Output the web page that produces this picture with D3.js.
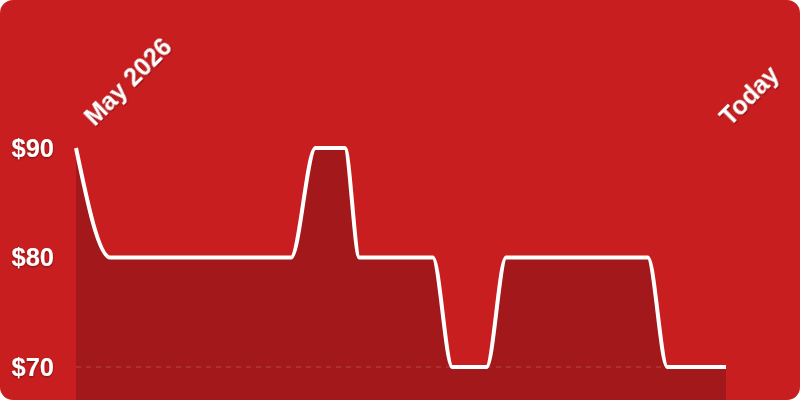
<!DOCTYPE html>
<html>
<head>
<meta charset="utf-8">
<script src="https://cdn.jsdelivr.net/npm/d3@7"></script>
<style>
  html, body { margin: 0; padding: 0; background: #ffffff; }
  svg { display: block; }
  text { font-family: "Liberation Sans", Arial, sans-serif; font-weight: bold; fill: #ffffff; }
</style>
</head>
<body>
<div id="container"></div>
<script>
// Datos de precio: una fila por cada cambio registrado
const dates = ['2026-04-28', '2026-05-05', '2026-06-11', '2026-06-16', '2026-06-22',
               '2026-06-25', '2026-07-10', '2026-07-14', '2026-07-21', '2026-07-25',
               '2026-08-23', '2026-08-27', '2026-09-08'];
const prices = [90, 80, 80, 90, 90, 80, 80, 70, 70, 80, 80, 70, 70];

const yTicks = [70, 80, 90];
const xLabels = ['May 2026', 'Today'];
const xLabelDates = ['2026-05-01', '2026-09-08'];

const WIDTH = 800;
const HEIGHT = 400;

const parse = d3.utcParse('%Y-%m-%d');
const data = dates.map((d, i) => ({ date: parse(d), price: prices[i] }));

const x = d3.scaleUtc()
            .domain(d3.extent(data, d => d.date))
            .range([76, 726]);

const y = d3.scaleLinear()
            .domain([70, 90])
            .range([367, 148]);

const svg = d3.select('#container')
              .append('svg')
                .attr('width', WIDTH)
                .attr('height', HEIGHT);

// sombra del texto
const filter = svg.append('defs')
                  .append('filter')
                    .attr('id', 'shadow')
                    .attr('x', '-20%').attr('y', '-20%')
                    .attr('width', '140%').attr('height', '140%');
filter.append('feDropShadow')
        .attr('dx', 0).attr('dy', 1)
        .attr('stdDeviation', 1.2)
        .attr('flood-color', '#000')
        .attr('flood-opacity', 0.45);

svg.append('clipPath')
     .attr('id', 'card')
   .append('rect')
     .attr('width', WIDTH)
     .attr('height', HEIGHT)
     .attr('rx', 13);

const card = svg.append('g').attr('clip-path', 'url(#card)');

card.append('rect')
      .attr('width', WIDTH)
      .attr('height', HEIGHT)
      .attr('fill', '#c91e1f');

const area = d3.area()
               .curve(d3.curveMonotoneX)
               .x(d => x(d.date))
               .y0(HEIGHT)
               .y1(d => y(d.price));

const line = d3.line()
               .curve(d3.curveMonotoneX)
               .x(d => x(d.date))
               .y(d => y(d.price));

card.append('path')
      .datum(data)
      .attr('fill', '#a3181a')
      .attr('d', area);

// linea base punteada
card.append('line')
      .attr('x1', x.range()[0])
      .attr('x2', x.range()[1])
      .attr('y1', y(70))
      .attr('y2', y(70))
      .attr('stroke', 'rgba(255,255,255,0.14)')
      .attr('stroke-width', 1.5)
      .attr('stroke-dasharray', '5,5');

card.append('path')
      .datum(data)
      .attr('fill', 'none')
      .attr('stroke', '#ffffff')
      .attr('stroke-width', 4)
      .attr('d', line);

// etiquetas del eje y
card.selectAll('.ytick')
      .data(yTicks)
      .enter()
    .append('text')
      .attr('class', 'ytick')
      .attr('x', 54)
      .attr('y', d => y(d))
      .attr('dy', '0.35em')
      .attr('text-anchor', 'end')
      .attr('font-size', 25.5)
      .attr('filter', 'url(#shadow)')
      .text(d => `$${d}`);

// etiquetas rotadas arriba
card.selectAll('.xlabel')
      .data(xLabels)
      .enter()
    .append('text')
      .attr('class', 'xlabel')
      .attr('transform', (d, i) => `translate(${x(parse(xLabelDates[i])) + 4},127) rotate(-45)`)
      .attr('font-size', 25)
      .attr('filter', 'url(#shadow)')
      .text(d => d);
</script>
</body>
</html>
